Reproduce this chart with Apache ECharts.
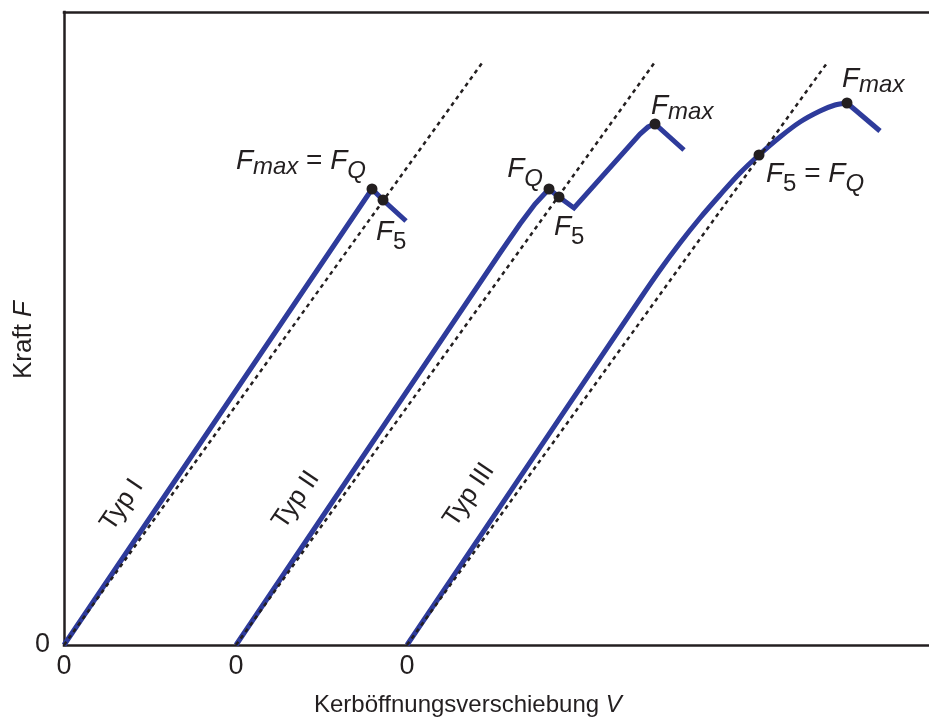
<!DOCTYPE html>
<html>
<head>
<meta charset="utf-8">
<script src="https://cdn.jsdelivr.net/npm/echarts@6/dist/echarts.min.js"></script>
<style>
  html, body { margin: 0; padding: 0; background: #ffffff; }
  #chart { width: 929px; height: 720px; }
</style>
</head>
<body>
<div id="chart"></div>
<script>
// Force vs. notch opening displacement (arbitrary units) for the three record types
const typ1 = [[0, 0], [3.08, 4.56], [3.19, 4.45], [3.42, 4.24]];
const typ2 = [[1.72, 0], [4.36, 3.92], [4.56, 4.21], [4.71, 4.41], [4.85, 4.56], [4.95, 4.48],
              [5.10, 4.37], [5.76, 5.11], [5.84, 5.18], [5.91, 5.21], [6.20, 4.95]];
const typ3 = [[3.43, 0], [5.76, 3.46], [5.96, 3.75], [6.16, 4.02], [6.36, 4.27], [6.56, 4.50],
              [6.76, 4.72], [6.95, 4.90], [7.16, 5.08], [7.36, 5.23], [7.56, 5.34], [7.71, 5.40],
              [7.83, 5.42], [8.16, 5.14]];
const typ3PeakIndex = 12;

// 5 % secant lines starting at each origin
const sec1 = [[0, 0], [4.18, 5.82]];
const sec2 = [[1.72, 0], [5.91, 5.83]];
const sec3 = [[3.43, 0], [7.63, 5.82]];

// Characteristic forces and their names
const pointValues = [[3.08, 4.56], [3.19, 4.45], [4.85, 4.56], [4.95, 4.48], [5.91, 5.21], [6.95, 4.90], [7.83, 5.42]];
const pointLabels = [
  '{f|F}{sm|max}{e| = }{f|F}{sq|Q}',
  '{f|F}{s5|5}',
  '{f|F}{sq|Q}',
  '{f|F}{s5|5}',
  '{f|F}{sm|max}',
  '{f|F}{s5|5}{e| = }{f|F}{sq|Q}',
  '{f|F}{sm|max}'
];

// Axis ticks
const xTickValues = [0, 1.72, 3.43];
const xTickLabels = ['0', '0', '0'];
const yTickValues = [0];
const yTickLabels = ['0'];

// Curve names drawn along the curves
const typeNames = ['Typ I', 'Typ II', 'Typ III'];

const FONT = '"Liberation Sans", Arial, Helvetica, sans-serif';
const INK = '#231f20';
const BLUE = '#2e3b9b';

// where each point name sits relative to its marker
const labelPlacement = [
  { align: 'right', offset: [-6, -42] },
  { align: 'left',  offset: [-7, 18] },
  { align: 'right', offset: [-6, -34] },
  { align: 'left',  offset: [-5, 16] },
  { align: 'left',  offset: [-4, -32] },
  { align: 'left',  offset: [7, 5] },
  { align: 'left',  offset: [-5, -38] }
];
const typePlacement = [[122, 505], [296, 500], [469, 495]];

const richStyles = {
  f:  { fontSize: 28, fontStyle: 'italic', lineHeight: 30, verticalAlign: 'top', color: INK },
  e:  { fontSize: 28, lineHeight: 30, verticalAlign: 'top', color: INK },
  sm: { fontSize: 24, fontStyle: 'italic', lineHeight: 26, padding: [8, 0, 0, 0], verticalAlign: 'top', color: INK },
  sq: { fontSize: 24, fontStyle: 'italic', lineHeight: 26, padding: [12, 0, 0, 0], verticalAlign: 'top', color: INK },
  s5: { fontSize: 24, lineHeight: 26, padding: [12, 0, 0, 0], verticalAlign: 'top', color: INK }
};

function curve(data, smooth) {
  return {
    type: 'line', data: data, showSymbol: false, silent: true, z: 2,
    smooth: smooth || false,
    lineStyle: { color: BLUE, width: 5, join: 'miter', cap: 'butt' }
  };
}
function secant(data) {
  return {
    type: 'line', data: data, showSymbol: false, silent: true, z: 3,
    lineStyle: { color: INK, width: 2.5, type: [4, 4] }
  };
}

const pointData = pointValues.map((v, i) => ({
  value: v,
  label: {
    show: true,
    position: 'inside',
    formatter: pointLabels[i],
    align: labelPlacement[i].align,
    verticalAlign: 'top',
    offset: labelPlacement[i].offset
  }
}));

const frameLine = { show: true, lineStyle: { color: INK, width: 2.5, cap: 'square' } };

const chart = echarts.init(document.getElementById('chart'), null, { renderer: 'canvas' });

chart.setOption({
  animation: false,
  backgroundColor: '#ffffff',
  textStyle: { fontFamily: FONT, color: INK },
  grid: { left: 64, top: 12, right: 0, bottom: 75 },
  xAxis: [
    {
      type: 'value', min: 0, max: 8.65,
      axisLine: frameLine, axisTick: { show: false }, splitLine: { show: false },
      axisLabel: {
        customValues: xTickValues,
        formatter: v => xTickLabels[xTickValues.indexOf(v)] ?? '',
        fontSize: 27, color: INK, fontFamily: FONT, margin: 8
      }
    },
    {
      type: 'value', min: 0, max: 8.65, position: 'top',
      axisLine: frameLine, axisTick: { show: false }, splitLine: { show: false },
      axisLabel: { show: false }
    }
  ],
  yAxis: {
    type: 'value', min: 0, max: 6.33,
    axisLine: frameLine, axisTick: { show: false }, splitLine: { show: false },
    axisLabel: {
      customValues: yTickValues,
      formatter: v => yTickLabels[yTickValues.indexOf(v)] ?? '',
      fontSize: 27, color: INK, fontFamily: FONT, margin: 14
    }
  },
  series: [
    curve(typ1), curve(typ2),
    curve(typ3.slice(0, typ3PeakIndex + 1), 0.3),
    curve(typ3.slice(typ3PeakIndex)),
    secant(sec1), secant(sec2), secant(sec3),
    {
      type: 'scatter', data: pointData, symbol: 'circle', symbolSize: 11, z: 5, silent: true,
      itemStyle: { color: INK, opacity: 1 },
      label: { fontFamily: FONT, color: INK, opacity: 1, textBorderWidth: 0, rich: richStyles }
    }
  ],
  graphic: [
    {
      type: 'text', x: 314, y: 705, silent: true,
      style: {
        text: '{n|Kerböffnungsverschiebung }{i|V}',
        fontFamily: FONT, align: 'left', verticalAlign: 'middle',
        rich: {
          n: { fontSize: 24, fill: INK, fontFamily: FONT },
          i: { fontSize: 24, fill: INK, fontStyle: 'italic', fontFamily: FONT }
        }
      }
    },
    {
      type: 'text', x: 24, y: 340, rotation: Math.PI / 2, silent: true,
      style: {
        text: '{n|Kraft }{i|F}',
        fontFamily: FONT, align: 'center', verticalAlign: 'middle',
        rich: {
          n: { fontSize: 26, fill: INK, fontFamily: FONT },
          i: { fontSize: 26, fill: INK, fontStyle: 'italic', fontFamily: FONT }
        }
      }
    }
  ].concat(typeNames.map((name, i) => ({
    type: 'text', x: typePlacement[i][0], y: typePlacement[i][1],
    rotation: 56 * Math.PI / 180, silent: true,
    style: { text: name, fontFamily: FONT, fontSize: 26, fill: INK, align: 'center', verticalAlign: 'middle' }
  })))
});
</script>
</body>
</html>
